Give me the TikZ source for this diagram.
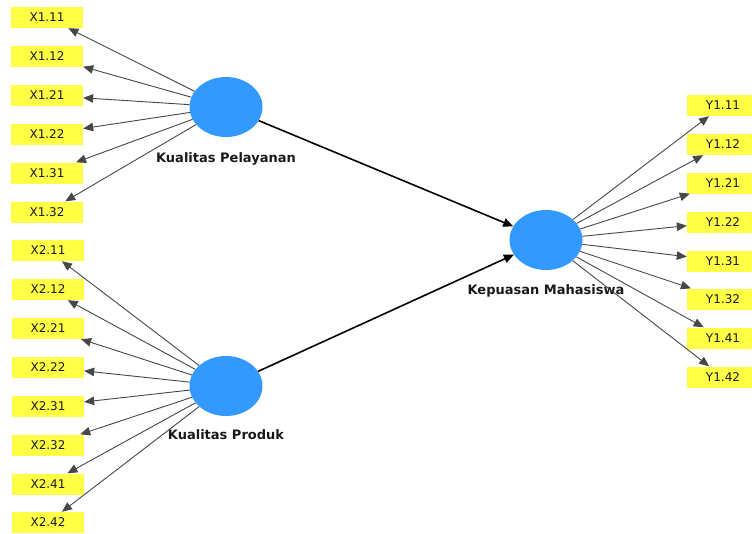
\documentclass[tikz,border=0pt]{standalone}
\usepackage{fontspec}
\setmainfont{DejaVu Sans}
\usetikzlibrary{arrows.meta,shapes.geometric}
\definecolor{indyellow}{RGB}{255,255,70}
\definecolor{lvblue}{RGB}{51,153,255}
\tikzset{
  ind/.style={fill=indyellow, draw=none, minimum width=72pt, minimum height=21pt, inner sep=0pt, font=\fontsize{12}{13}\selectfont, text=black!90},
  lv/.style={ellipse, fill=lvblue, draw=none, minimum width=73pt, minimum height=60pt, inner sep=0pt},
  lvlabel/.style={anchor=base, font=\fontsize{13}{14}\selectfont\bfseries, text=black!90},
  loadarrow/.style={draw=black!72, line width=0.9pt, -{Triangle[length=10pt,width=8.5pt]}},
  structarrow/.style={draw=black, line width=1.6pt, -{Triangle[length=10pt,width=8.5pt]}}
}
\begin{document}
\begin{tikzpicture}[x=1pt,y=-1pt]
\useasboundingbox (0,0) rectangle (752,533);
\clip (0,0) rectangle (752,533);
% latent variables
\node[lv] (kp) at (226,107) {};
\node[lv] (kpr) at (226,386) {};
\node[lv] (km) at (546,240) {};
\node[lvlabel] (lkp) at (226,162) {Kualitas Pelayanan};
\node[lvlabel] (lkpr) at (226,439) {Kualitas Produk};
\node[lvlabel] (lkm) at (546,294) {Kepuasan Mahasiswa};
% X1 indicators
\node[ind] (x111) at (47,17.5) {X1.11};
\node[ind] (x112) at (47,56.5) {X1.12};
\node[ind] (x121) at (47,95.5) {X1.21};
\node[ind] (x122) at (47,134) {X1.22};
\node[ind] (x131) at (47,173) {X1.31};
\node[ind] (x132) at (47,212) {X1.32};
% X2 indicators
\node[ind] (x211) at (48,250.5) {X2.11};
\node[ind] (x212) at (48,289.5) {X2.12};
\node[ind] (x221) at (48,328.5) {X2.21};
\node[ind] (x222) at (48,367) {X2.22};
\node[ind] (x231) at (48,406) {X2.31};
\node[ind] (x232) at (48,445) {X2.32};
\node[ind] (x241) at (48,484) {X2.41};
\node[ind] (x242) at (48,522.5) {X2.42};
% Y indicators
\node[ind] (y111) at (723,105.5) {Y1.11};
\node[ind] (y112) at (723,144.5) {Y1.12};
\node[ind] (y121) at (723,183) {Y1.21};
\node[ind] (y122) at (723,222) {Y1.22};
\node[ind] (y131) at (723,261) {Y1.31};
\node[ind] (y132) at (723,299) {Y1.32};
\node[ind] (y141) at (723,338) {Y1.41};
\node[ind] (y142) at (723,377) {Y1.42};
% loadings
\foreach \t in {x111,x112,x121,x122,x131,x132} \draw[loadarrow] (kp) -- (\t);
\foreach \t in {x211,x212,x221,x222,x231,x232,x241,x242} \draw[loadarrow] (kpr) -- (\t);
\foreach \t in {y111,y112,y121,y122,y131,y132,y141,y142} \draw[loadarrow] (km) -- (\t);
% structural paths
\draw[structarrow] (kp) -- (km);
\draw[structarrow] (kpr) -- (km);
\end{tikzpicture}
\end{document}
